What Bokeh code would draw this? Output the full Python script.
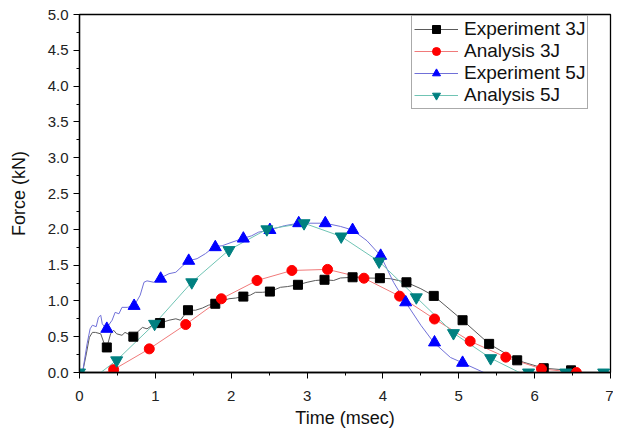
from bokeh.plotting import figure
from bokeh.models import Legend, LegendItem, SingleIntervalTicker, PrintfTickFormatter, Range1d
from bokeh.embed import file_html
from bokeh.resources import INLINE

# ---- data (time in msec, force in kN) ----
# Experiment 3J: measured trace and marker points
exp3_trace_t = [0, 0.04, 0.09, 0.13, 0.17, 0.21, 0.28, 0.32, 0.36, 0.41, 0.45, 0.49, 0.56, 0.60, 0.71, 0.76,
                0.83, 0.89, 0.96, 1.06, 1.18, 1.27, 1.33, 1.43, 1.53, 1.62, 1.70, 1.78, 1.88, 1.97, 2.06, 2.15,
                2.25, 2.32, 2.41, 2.51, 2.65, 2.74, 2.88, 3.00, 3.11, 3.23, 3.35, 3.44, 3.60, 3.75, 3.96, 4.10,
                4.31, 4.50, 4.67, 5.05, 5.40, 5.77, 6.12, 6.48, 6.60]
exp3_trace_f = [0, 0, 0.26, 0.49, 0.56, 0.56, 0.54, 0.42, 0.35, 0.54, 0.59, 0.54, 0.52, 0.56, 0.50, 0.56,
                0.63, 0.61, 0.66, 0.69, 0.73, 0.75, 0.73, 0.87, 0.87, 0.90, 0.94, 0.96, 1.00, 1.03, 1.04, 1.06,
                1.08, 1.12, 1.12, 1.13, 1.19, 1.20, 1.225, 1.26, 1.285, 1.295, 1.285, 1.32, 1.33, 1.32, 1.317, 1.31,
                1.26, 1.17, 1.07, 0.73, 0.40, 0.17, 0.06, 0.03, 0.0]
exp3_t = [0.36, 0.71, 1.06, 1.43, 1.79, 2.16, 2.51, 2.88, 3.23, 3.60, 3.96, 4.31, 4.67, 5.05, 5.40, 5.77, 6.12, 6.48]
exp3_f = [0.35, 0.50, 0.69, 0.87, 0.96, 1.06, 1.13, 1.225, 1.295, 1.33, 1.317, 1.26, 1.07, 0.73, 0.40, 0.17, 0.06, 0.03]

# Analysis 3J
ana3_line_t = [0.34, 0.45, 0.92, 1.40, 1.87, 2.34, 2.80, 3.27, 3.75, 4.22, 4.68, 5.15, 5.62, 6.09, 6.55, 6.60]
ana3_line_f = [0.0, 0.04, 0.33, 0.67, 1.03, 1.285, 1.425, 1.44, 1.317, 1.066, 0.747, 0.437, 0.214, 0.05, 0.0, 0.0]
ana3_t = [0.45, 0.92, 1.40, 1.87, 2.34, 2.80, 3.27, 3.75, 4.22, 4.68, 5.15, 5.62, 6.09, 6.55]
ana3_f = [0.04, 0.33, 0.67, 1.03, 1.285, 1.425, 1.44, 1.317, 1.066, 0.747, 0.437, 0.214, 0.05, 0.0]

# Experiment 5J
exp5_trace_t = [0, 0.04, 0.10, 0.14, 0.17, 0.22, 0.25, 0.28, 0.30, 0.35, 0.43, 0.47, 0.52, 0.56, 0.63, 0.72,
                0.80, 0.85, 0.89, 0.98, 1.05, 1.18, 1.27, 1.36, 1.44, 1.55, 1.66, 1.78, 1.88, 2.01, 2.15, 2.27,
                2.36, 2.51, 2.70, 2.89, 3.24, 3.44, 3.60, 3.79, 3.97, 4.14, 4.30, 4.50, 4.67, 4.89, 5.05, 5.33]
exp5_trace_f = [0, 0, 0.40, 0.61, 0.66, 0.64, 0.77, 0.80, 0.68, 0.61, 0.73, 0.84, 0.82, 0.91, 0.91, 0.93,
                1.08, 1.26, 1.28, 1.26, 1.31, 1.38, 1.40, 1.49, 1.56, 1.59, 1.66, 1.76, 1.77, 1.82, 1.87, 1.91,
                1.96, 1.99, 2.05, 2.085, 2.085, 2.04, 1.99, 1.84, 1.63, 1.26, 0.98, 0.66, 0.42, 0.21, 0.135, 0.0]
exp5_t = [0.36, 0.72, 1.07, 1.44, 1.79, 2.16, 2.51, 2.89, 3.24, 3.60, 3.97, 4.30, 4.68, 5.05]
exp5_f = [0.61, 0.93, 1.31, 1.56, 1.75, 1.87, 1.99, 2.085, 2.085, 1.99, 1.63, 0.98, 0.42, 0.135]

# Analysis 5J
ana5_line_t = [0, 0.28, 0.49, 0.99, 1.48, 1.97, 2.47, 2.96, 3.45, 3.95, 4.44, 4.93, 5.42, 5.80, 5.92, 6.41, 6.91, 7.0]
ana5_line_f = [0, 0.0, 0.17, 0.68, 1.26, 1.71, 2.0, 2.085, 1.90, 1.55, 1.05, 0.55, 0.20, 0.0, 0.0, 0.0, 0.0, 0.0]
ana5_t = [0, 0.49, 0.99, 1.48, 1.97, 2.47, 2.96, 3.45, 3.95, 4.44, 4.93, 5.42, 5.92, 6.41, 6.91]
ana5_f = [0, 0.17, 0.68, 1.26, 1.71, 2.0, 2.085, 1.90, 1.55, 1.05, 0.55, 0.20, 0.0, 0.0, 0.0]

labels = ["Experiment 3J", "Analysis 3J", "Experiment 5J", "Analysis 5J"]

FONT = "Liberation Sans"

p = figure(width=613, height=430, output_backend="svg", toolbar_location=None,
           x_range=Range1d(0, 7), y_range=Range1d(0, 5),
           min_border_left=79, min_border_right=3, min_border_top=14, min_border_bottom=58)
p.xgrid.visible = False
p.ygrid.visible = False
p.outline_line_color = "black"
p.outline_line_width = 1.3
p.background_fill_color = "white"
p.border_fill_color = "white"

# lines
l1 = p.line(exp3_trace_t, exp3_trace_f, line_color="#5a5a5a", line_width=1)
l2 = p.line(ana3_line_t, ana3_line_f, line_color="#f07a7a", line_width=1)
l3 = p.line(exp5_trace_t, exp5_trace_f, line_color="#7070d8", line_width=1)
l4 = p.line(ana5_line_t, ana5_line_f, line_color="#70c4b4", line_width=1)

# markers
m1 = p.scatter(exp3_t, exp3_f, marker="square", size=9, fill_color="black", line_color="black")
m2 = p.scatter(ana3_t, ana3_f, marker="circle", size=10, fill_color="#ff0000", line_color="#ff0000")
m3 = p.scatter(exp5_t, exp5_f, marker="triangle", size=12, fill_color="#0000ff", line_color="#0000ff")
m4 = p.scatter(ana5_t, ana5_f, marker="inverted_triangle", size=12, fill_color="#008080", line_color="#008080")

# axes
p.xaxis.ticker = SingleIntervalTicker(interval=1, num_minor_ticks=2)
p.yaxis.ticker = SingleIntervalTicker(interval=0.5, num_minor_ticks=2)
p.yaxis.formatter = PrintfTickFormatter(format="%.1f")
for ax in (p.xaxis[0], p.yaxis[0]):
    ax.axis_line_color = "black"
    ax.axis_line_width = 1.3
    ax.major_tick_line_color = "black"
    ax.minor_tick_line_color = "black"
    ax.major_tick_out = 6
    ax.major_tick_in = 0
    ax.minor_tick_out = 3
    ax.minor_tick_in = 0
    ax.major_label_text_font = FONT
    ax.major_label_text_font_size = "15px"
    ax.major_label_text_color = "#222222"
    ax.axis_label_text_font = FONT
    ax.axis_label_text_font_size = "18px"
    ax.axis_label_text_font_style = "normal"
    ax.axis_label_text_color = "#111111"
p.xaxis.axis_label = "Time (msec)"
p.yaxis.axis_label = "Force (kN)"
p.xaxis.major_label_standoff = 12
p.yaxis.major_label_standoff = 5
p.xaxis.axis_label_standoff = 4
p.yaxis.axis_label_standoff = 16

legend = Legend(items=[
    LegendItem(label=labels[0], renderers=[l1, m1]),
    LegendItem(label=labels[1], renderers=[l2, m2]),
    LegendItem(label=labels[2], renderers=[l3, m3]),
    LegendItem(label=labels[3], renderers=[l4, m4]),
], location=(332, 263))
legend.label_text_font = FONT
legend.label_text_font_size = "19px"
legend.label_text_color = "#111111"
legend.glyph_width = 44
legend.glyph_height = 20
legend.label_height = 20
legend.spacing = -2
legend.padding = 2
legend.margin = 0
legend.label_standoff = 6
legend.border_line_color = "#555555"
legend.border_line_width = 1
legend.background_fill_alpha = 1
p.add_layout(legend, "center")

open("out.html", "w").write(file_html(p, INLINE))
